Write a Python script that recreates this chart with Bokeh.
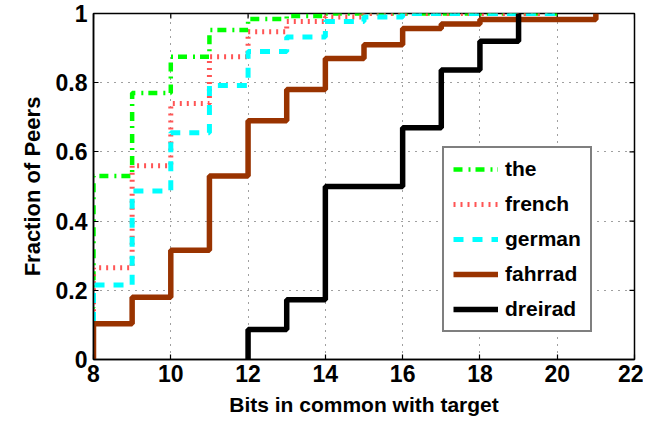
from bokeh.plotting import figure
from bokeh.models import Range1d, Legend, LegendItem, FixedTicker
from bokeh.embed import file_html
from bokeh.resources import INLINE

# ---- data ----
bits_the = [7, 8, 9, 10, 11, 12, 13, 14, 15, 16, 17, 18, 19, 20]
frac_the = [0.15, 0.53, 0.77, 0.875, 0.952, 0.984, 0.993, 1.0, 1.0, 1.0, 1.0, 1.0, 1.0, 1.0]

bits_french = [7, 8, 9, 10, 11, 12, 13, 14, 15, 16, 17, 18, 19, 20]
frac_french = [0.13, 0.265, 0.56, 0.74, 0.875, 0.947, 0.977, 0.99, 1.0, 1.0, 1.0, 1.0, 1.0, 1.0]

bits_german = [7, 8, 9, 10, 11, 12, 13, 14, 15, 16, 17, 18, 19, 20]
frac_german = [0.11, 0.215, 0.487, 0.655, 0.792, 0.89, 0.932, 0.977, 0.99, 1.0, 1.0, 1.0, 1.0, 1.0]

bits_fahrrad = [7, 8, 9, 10, 11, 12, 13, 14, 15, 16, 17, 18, 19, 20, 21]
frac_fahrrad = [0.0, 0.103, 0.18, 0.316, 0.53, 0.69, 0.78, 0.87, 0.91, 0.957, 0.97, 0.983, 0.983, 0.983, 1.0]

bits_dreirad = [12, 12, 13, 14, 15, 16, 17, 18, 19]
frac_dreirad = [0.0, 0.087, 0.173, 0.5, 0.5, 0.67, 0.837, 0.92, 1.0]

x_ticks = [8, 10, 12, 14, 16, 18, 20, 22]
y_ticks = [0.0, 0.2, 0.4, 0.6, 0.8, 1.0]
y_tick_labels = ["0", "0.2", "0.4", "0.6", "0.8", "1"]

FONT = "Liberation Sans"
X0, X1, Y0, Y1 = 8, 22, 0, 1

p = figure(width=643, height=418, output_backend="svg", toolbar_location=None,
           x_range=Range1d(X0, X1), y_range=Range1d(Y0, Y1),
           min_border_left=93, min_border_right=9, min_border_top=13,
           min_border_bottom=58)
p.background_fill_color = "white"
p.border_fill_color = "white"
p.outline_line_color = "black"
p.outline_line_width = 1.5

# axes
for ax in [p.xaxis[0], p.yaxis[0]]:
    ax.major_label_text_font = FONT
    ax.major_label_text_font_style = "bold"
    ax.major_label_text_font_size = "23px"
    ax.major_label_text_color = "black"
    ax.axis_label_text_font = FONT
    ax.axis_label_text_font_style = "bold"
    ax.axis_label_text_color = "black"
    ax.major_tick_in = 5
    ax.major_tick_out = 0
    ax.minor_tick_line_color = None
    ax.axis_line_width = 1.5
    ax.major_tick_line_width = 1.2

p.xaxis.ticker = FixedTicker(ticks=x_ticks)
p.yaxis.ticker = FixedTicker(ticks=y_ticks)
p.yaxis.major_label_overrides = {t: l for t, l in zip(y_ticks, y_tick_labels)}
p.xaxis.axis_label = "Bits in common with target"
p.yaxis.axis_label = "Fraction of Peers"
p.xaxis.axis_label_text_font_size = "21px"
p.yaxis.axis_label_text_font_size = "22px"
p.xaxis.major_label_standoff = 5
p.yaxis.major_label_standoff = 6
p.xaxis.axis_label_standoff = 8
p.yaxis.axis_label_standoff = 8

# grid
p.xgrid.ticker = FixedTicker(ticks=x_ticks)
p.ygrid.ticker = FixedTicker(ticks=y_ticks)
for g in [p.xgrid[0], p.ygrid[0]]:
    g.grid_line_color = "black"
    g.grid_line_alpha = 0.75
    g.grid_line_dash = "1 6"
    g.grid_line_width = 1

# inward ticks on top and right edges (mirrored box ticks)
tick_dx = (X1 - X0) * 5 / 541
tick_dy = (Y1 - Y0) * 5 / 345
p.segment(x0=x_ticks, x1=x_ticks, y0=[Y1] * len(x_ticks), y1=[Y1 - tick_dy] * len(x_ticks),
          line_color="black", line_width=1.2)
p.segment(x0=[X1] * len(y_ticks), x1=[X1 - tick_dx] * len(y_ticks), y0=y_ticks, y1=y_ticks,
          line_color="black", line_width=1.2)

r_the = p.step(bits_the, frac_the, mode="after", line_color="#00ff00",
               line_width=4.5, line_dash="9 6 2 5")
r_french = p.step(bits_french, frac_french, mode="after", line_color="#ff5555",
                  line_width=5, line_dash="2 5")
r_german = p.step(bits_german, frac_german, mode="after", line_color="#00ffff",
                  line_width=5, line_dash="10 9")
r_fahrrad = p.step(bits_fahrrad, frac_fahrrad, mode="after", line_color="#993300",
                   line_width=5.5)
r_dreirad = p.step(bits_dreirad, frac_dreirad, mode="after", line_color="black",
                   line_width=5.5)

legend = Legend(items=[
    LegendItem(label="the", renderers=[r_the]),
    LegendItem(label="french", renderers=[r_french]),
    LegendItem(label="german", renderers=[r_german]),
    LegendItem(label="fahrrad", renderers=[r_fahrrad]),
    LegendItem(label="dreirad", renderers=[r_dreirad]),
], location=(349, 27))
legend.label_text_font = FONT
legend.label_text_font_style = "bold"
legend.label_text_font_size = "21px"
legend.label_text_color = "black"
legend.border_line_color = "black"
legend.border_line_width = 2
legend.background_fill_color = "white"
legend.background_fill_alpha = 1
legend.padding = 9
legend.spacing = 11
legend.margin = 0
legend.glyph_width = 45
legend.glyph_height = 20
legend.label_height = 20
legend.label_standoff = 7
p.add_layout(legend, "center")

open("out.html", "w").write(file_html(p, INLINE))
